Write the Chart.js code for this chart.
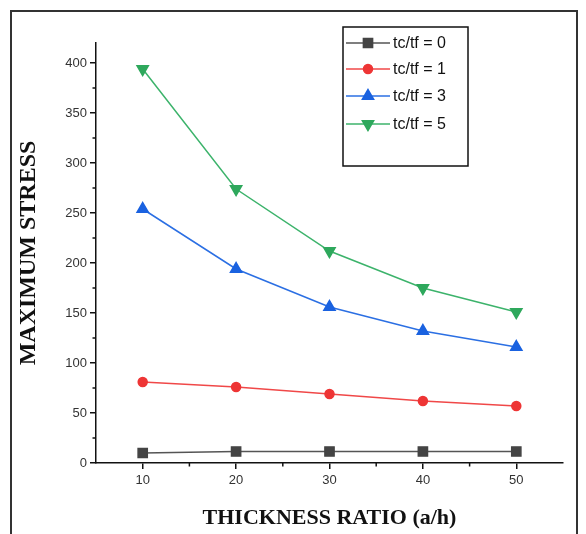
<!DOCTYPE html>
<html>
<head>
<meta charset="utf-8">
<script src="https://cdn.jsdelivr.net/npm/chart.js@4/dist/chart.umd.min.js"></script>
<style>
  html, body { margin: 0; padding: 0; background: #fff; }
  #wrap { position: relative; width: 586px; height: 534px; }
  #frame { position: absolute; left: 10px; top: 10px; width: 568px; height: 540px;
           border: 2px solid #333; box-sizing: border-box; pointer-events: none; }
</style>
</head>
<body>
<div id="wrap">
  <canvas id="c" width="586" height="534"></canvas>
  <div id="frame"></div>
</div>
<script>
// thickness ratio a/h
var ratios = [10, 20, 30, 40, 50];
var labels = ['tc/tf = 0', 'tc/tf = 1', 'tc/tf = 3', 'tc/tf = 5'];
var stress0 = [10, 11.5, 11.5, 11.5, 11.5];
var stress1 = [81, 76, 69, 62, 57];
var stress3 = [254, 194, 156, 132, 116];
var stress5 = [394, 274, 212, 175, 151];
var yTicks = [0, 50, 100, 150, 200, 250, 300, 350, 400];
var xTicks = [10, 20, 30, 40, 50];

function pts(vals) {
  return ratios.map(function (r, i) { return { x: r, y: vals[i] }; });
}

var styles = [
  { line: '#555555', fill: '#444444', shape: 'rect', rot: 0, r: 6.5 },
  { line: '#f04848', fill: '#ee3535', shape: 'circle', rot: 0, r: 4.5 },
  { line: '#2b6fe3', fill: '#1a62e0', shape: 'triangle', rot: 0, r: 6.5 },
  { line: '#3cb36b', fill: '#2ea85c', shape: 'triangle', rot: 180, r: 6.5 }
];
var series = [stress0, stress1, stress3, stress5];

var datasets = series.map(function (s, i) {
  return {
    label: labels[i],
    data: pts(s),
    borderColor: styles[i].line,
    backgroundColor: styles[i].fill,
    pointBackgroundColor: styles[i].fill,
    pointBorderColor: styles[i].fill,
    pointStyle: styles[i].shape,
    pointRotation: styles[i].rot,
    pointRadius: styles[i].r,
    borderWidth: 1.5,
    tension: 0
  };
});

// minor ticks + boxed legend
var extras = {
  id: 'extras',
  afterDraw: function (chart) {
    var ctx = chart.ctx;
    var xs = chart.scales.x, ys = chart.scales.y;
    var area = chart.chartArea;
    ctx.save();
    ctx.strokeStyle = '#111';
    ctx.lineWidth = 1.5;
    [15, 25, 35, 45].forEach(function (v) {
      var px = xs.getPixelForValue(v);
      ctx.beginPath(); ctx.moveTo(px, area.bottom); ctx.lineTo(px, area.bottom + 3.5); ctx.stroke();
    });
    for (var v = 25; v < 420; v += 50) {
      var py = ys.getPixelForValue(v);
      ctx.beginPath(); ctx.moveTo(area.left, py); ctx.lineTo(area.left - 3.5, py); ctx.stroke();
    }

    // legend box
    var bx = 343, by = 27, bw = 125, bh = 139;
    ctx.lineWidth = 1.5;
    ctx.strokeStyle = '#111';
    ctx.strokeRect(bx, by, bw, bh);
    var rows = [43, 69, 96, 124];
    ctx.font = '16px "Liberation Sans", Arial, sans-serif';
    ctx.textBaseline = 'middle';
    ctx.textAlign = 'left';
    chart.data.datasets.forEach(function (ds, i) {
      var y = rows[i];
      ctx.strokeStyle = ds.borderColor;
      ctx.lineWidth = 1.5;
      ctx.beginPath(); ctx.moveTo(346, y); ctx.lineTo(390, y); ctx.stroke();
      ctx.fillStyle = ds.pointBackgroundColor;
      ctx.strokeStyle = ds.pointBorderColor;
      Chart.helpers.drawPoint(ctx, {
        pointStyle: ds.pointStyle, rotation: ds.pointRotation, radius: ds.pointRadius, borderWidth: 1
      }, 368, y);
      ctx.fillStyle = '#111';
      ctx.fillText(ds.label, 393, y + 1);
    });
    ctx.restore();
  }
};

new Chart(document.getElementById('c'), {
  type: 'line',
  data: { datasets: datasets },
  plugins: [extras],
  options: {
    responsive: false,
    animation: false,
    layout: { padding: { left: 0, right: 23, top: 43, bottom: 0 } },
    plugins: { legend: { display: false }, tooltip: { enabled: false } },
    scales: {
      x: {
        type: 'linear',
        min: 5, max: 55,
        afterBuildTicks: function (s) { s.ticks = xTicks.map(function (v) { return { value: v }; }); },
        afterFit: function (s) { s.height = 71; },
        border: { display: true, color: '#111', width: 1.5 },
        grid: { display: true, drawOnChartArea: false, drawTicks: true, tickLength: 6, color: '#111', lineWidth: 1.5 },
        ticks: { color: '#333', font: { family: '"Liberation Sans", Arial, sans-serif', size: 13 }, padding: 4 },
        title: {
          display: true, text: 'THICKNESS RATIO (a/h)', color: '#111',
          font: { family: '"Liberation Serif", "Times New Roman", serif', size: 22, weight: 'bold' },
          padding: { top: 0, bottom: 2 }
        }
      },
      y: {
        min: 0, max: 420,
        afterBuildTicks: function (s) { s.ticks = yTicks.map(function (v) { return { value: v }; }); },
        afterFit: function (s) { s.width = 96; },
        border: { display: true, color: '#111', width: 1.5 },
        grid: { display: true, drawOnChartArea: false, drawTicks: true, tickLength: 6, color: '#111', lineWidth: 1.5 },
        ticks: { color: '#333', font: { family: '"Liberation Sans", Arial, sans-serif', size: 13 }, padding: 3 },
        title: {
          display: true, text: 'MAXIMUM STRESS', color: '#111',
          font: { family: '"Liberation Serif", "Times New Roman", serif', size: 24, weight: 'bold' },
          padding: { top: 14, bottom: 0 }
        }
      }
    }
  }
});
</script>
</body>
</html>
